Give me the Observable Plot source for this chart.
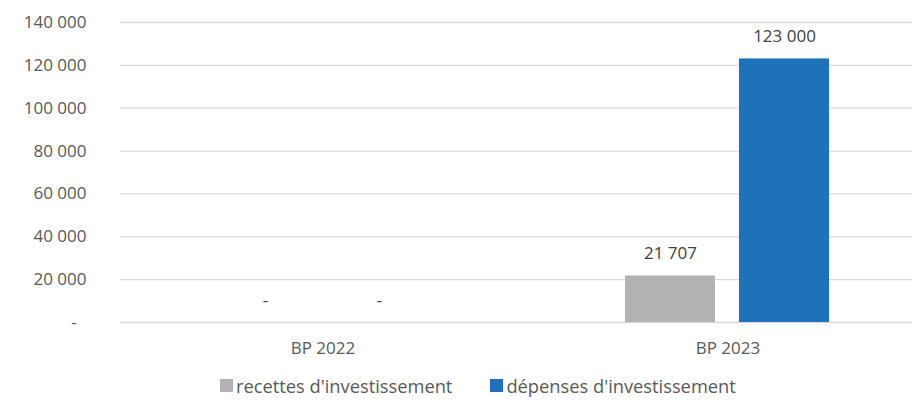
<!DOCTYPE html>
<html>
<head>
<meta charset="utf-8">
<script src="https://cdn.jsdelivr.net/npm/d3@7"></script>
<script src="https://cdn.jsdelivr.net/npm/@observablehq/plot@0.6"></script>
<style>
  html, body { margin: 0; padding: 0; background: #fff; }
  #wrap { position: relative; width: 912px; height: 405px; overflow: hidden; font-family: "Open Sans", sans-serif; color: #595959; }
  #chart { position: absolute; left: 0; top: 0; width: 930px; }
  #chart svg { max-width: none !important; }
  #legend { position: absolute; top: 373px; left: 220px; display: flex; align-items: center; font-size: 18.3px; color: #595959; white-space: nowrap; }
  .item { display: flex; align-items: center; margin-right: 38px; }
  .sw { width: 13px; height: 13px; margin-right: 3px; }
</style>
</head>
<body>
<div id="wrap">
  <div id="chart"></div>
  <div id="legend"></div>
</div>
<script>
const groups = ["BP 2022", "BP 2023"];
const seriesNames = ["recettes d'investissement", "dépenses d'investissement"];
const recettes = [0, 21707];
const depenses = [0, 123000];
const yTicks = [0, 20000, 40000, 60000, 80000, 100000, 120000, 140000];
const colors = ["#b2b2b2", "#1f71b8"];

const fmt = d3.formatLocale({decimal: ",", thousands: " ", grouping: [3]}).format(",.0f");
const label = v => v === 0 ? "-" : fmt(v);

const data = [];
groups.forEach((g, i) => {
  data.push({group: g, series: seriesNames[0], value: recettes[i]});
  data.push({group: g, series: seriesNames[1], value: depenses[i]});
});

const chart = Plot.plot({
  width: 930,
  height: 362,
  marginLeft: 119,
  marginRight: 0,
  marginTop: 22,
  marginBottom: 40,
  style: {fontFamily: "Open Sans, sans-serif", fontSize: "17px", color: "#595959", background: "#fff", maxWidth: "none"},
  fx: {domain: groups, padding: 0, label: null, axis: "bottom", tickSize: 0, tickPadding: 19},
  x: {domain: seriesNames, axis: null, paddingInner: 0.21, paddingOuter: 0.87},
  y: {domain: [0, 140000], axis: "left", ticks: yTicks, tickSize: 0, tickPadding: 34,
      tickFormat: d => d === 0 ? "-\u2007" : fmt(d), label: null},
  color: {domain: seriesNames, range: colors},
  marks: [
    Plot.ruleY(yTicks, {stroke: "#d9d9d9", strokeWidth: 1.3}),
    Plot.barY(data, {fx: "group", x: "series", y: "value", fill: "series"}),
    Plot.text(data, {fx: "group", x: "series", y: "value", text: d => label(d.value), dy: -22, fill: "#404040", fontSize: 17})
  ]
});
document.getElementById("chart").appendChild(chart);

const legend = document.getElementById("legend");
seriesNames.forEach((s, i) => {
  const it = document.createElement("div");
  it.className = "item";
  const sw = document.createElement("div");
  sw.className = "sw";
  sw.style.background = colors[i];
  const t = document.createElement("span");
  t.textContent = s;
  it.appendChild(sw);
  it.appendChild(t);
  legend.appendChild(it);
});
</script>
</body>
</html>
